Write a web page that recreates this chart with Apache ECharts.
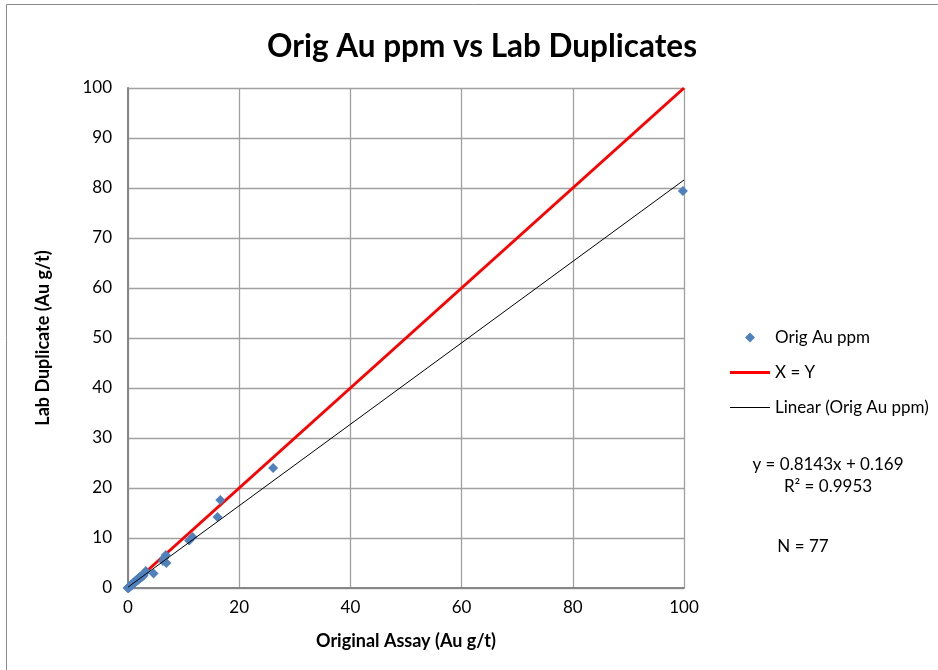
<!DOCTYPE html>
<html><head><meta charset="utf-8">
<script src="https://cdn.jsdelivr.net/npm/echarts@6/dist/echarts.min.js"></script>
<style>html,body{margin:0;padding:0;background:#fff}#c{width:938px;height:670px}</style>
</head><body><div id="c"></div>
<script>
const origAssay = [99.8,26.1,16.6,16.1,11.6,11.0,6.8,6.5,6.9,6.3,4.6,3.2,3.0,2.6,2.8,
 0.01,0.02,0.03,0.04,0.05,0.06,0.08,0.1,0.11,0.12,0.14,0.15,0.17,0.19,0.2,0.22,0.25,0.27,0.3,0.32,0.35,0.38,0.4,0.43,0.46,0.5,0.53,0.57,0.6,0.64,0.68,0.72,0.76,0.8,0.85,0.9,0.95,1.0,1.05,1.1,1.16,1.22,1.3,1.38,1.45,1.52,1.6,1.7,1.8,1.9,2.0,2.1,2.2,2.35,2.45,
 0.05,0.07,0.09,0.13,0.16,0.28,0.48];
const labDup = [79.4,24.0,17.6,14.2,10.2,9.5,6.6,6.0,5.0,5.4,2.9,3.4,3.0,2.3,2.5,
 0.02,0.01,0.03,0.05,0.04,0.07,0.06,0.09,0.13,0.1,0.15,0.12,0.18,0.16,0.22,0.19,0.24,0.3,0.26,0.35,0.31,0.4,0.36,0.45,0.41,0.52,0.47,0.6,0.55,0.66,0.62,0.75,0.7,0.84,0.78,0.93,0.88,1.05,0.97,1.15,1.05,1.28,1.2,1.42,1.33,1.6,1.48,1.75,1.62,1.95,1.85,2.2,2.0,2.4,2.2,
 0.06,0.05,0.1,0.11,0.17,0.27,0.5];
const xyLine = [[0,0],[100,100]];
const trendSlope = 0.8143, trendIntercept = 0.169;
const trendX = [0, 100];
const xTicks = {min:0,max:100,interval:20};
const yTicks = {min:0,max:100,interval:10};

const pts = origAssay.map((v,i)=>[v,labDup[i]]);
const trend = trendX.map(x=>[x, trendSlope*x+trendIntercept]);
const F = 'Lato, "Open Sans", sans-serif';
const chart = echarts.init(document.getElementById('c'), null, {renderer:'canvas'});
chart.setOption({
  animation:false,
  title:{text:'Orig Au ppm vs Lab Duplicates', left:477, top:26, textAlign:'center',
    textStyle:{fontFamily:F, fontSize:31.5, fontWeight:'bold', color:'#000'}},
  grid:{left:128, right:254, top:88, bottom:82},
  xAxis:{type:'value', min:xTicks.min, max:xTicks.max, interval:xTicks.interval,
    name:'Original Assay (Au g/t)', nameLocation:'middle', nameGap:44,
    nameTextStyle:{fontFamily:F, fontSize:18, fontWeight:'bold', color:'#000'},
    axisLine:{show:true, lineStyle:{color:'#868686', width:2}},
    axisTick:{show:false},
    axisLabel:{fontFamily:F, fontSize:17, color:'#000', margin:11},
    splitLine:{show:true, lineStyle:{color:'#a0a0a0', width:1.3}}},
  yAxis:{type:'value', min:yTicks.min, max:yTicks.max, interval:yTicks.interval,
    name:'Lab Duplicate (Au g/t)', nameLocation:'middle', nameGap:76, nameRotate:90,
    nameTextStyle:{fontFamily:F, fontSize:18, fontWeight:'bold', color:'#000'},
    axisLine:{show:true, lineStyle:{color:'#868686', width:2}},
    axisTick:{show:false},
    axisLabel:{fontFamily:F, fontSize:17, color:'#000', margin:16},
    splitLine:{show:true, lineStyle:{color:'#a0a0a0', width:1.3}}},
  legend:{orient:'vertical', left:725, top:324, itemWidth:40, itemHeight:10, itemGap:18,
    symbolKeepAspect:true,
    textStyle:{fontFamily:F, fontSize:17, color:'#000'},
    data:[{name:'Orig Au ppm', icon:'path://M5,0L10,5L5,10L0,5Z'},
          {name:'X = Y', icon:'path://M0,0L40,0L40,3L0,3Z'},
          {name:'Linear (Orig Au ppm)', icon:'path://M0,0L40,0L40,1L0,1Z'}]},
  series:[
    {name:'X = Y', type:'line', data:xyLine, symbol:'none', z:1,
      lineStyle:{color:'#ff0000', width:3}, itemStyle:{color:'#ff0000'}},
    {name:'Orig Au ppm', type:'scatter', data:pts, symbol:'diamond', symbolSize:10, z:2,
      itemStyle:{color:'#4f81bd', opacity:1}},
    {name:'Linear (Orig Au ppm)', type:'line', data:trend, symbol:'none', z:3,
      lineStyle:{color:'#000', width:1}, itemStyle:{color:'#000'}}
  ],
  graphic:[
    {type:'rect', left:4, top:2, shape:{width:940, height:700}, style:{fill:'none', stroke:'#8a8a8a', lineWidth:1}, silent:true},
    {type:'text', x:828, y:456, style:{text:'y = 0.8143x + 0.169', textAlign:'center', fontFamily:F, fontSize:17, fill:'#000'}},
    {type:'text', x:828, y:478, style:{text:'R² = 0.9953', textAlign:'center', fontFamily:F, fontSize:17, fill:'#000'}},
    {type:'text', x:803, y:538, style:{text:'N = 77', textAlign:'center', fontFamily:F, fontSize:17, fill:'#000'}}
  ]
});
</script></body></html>
